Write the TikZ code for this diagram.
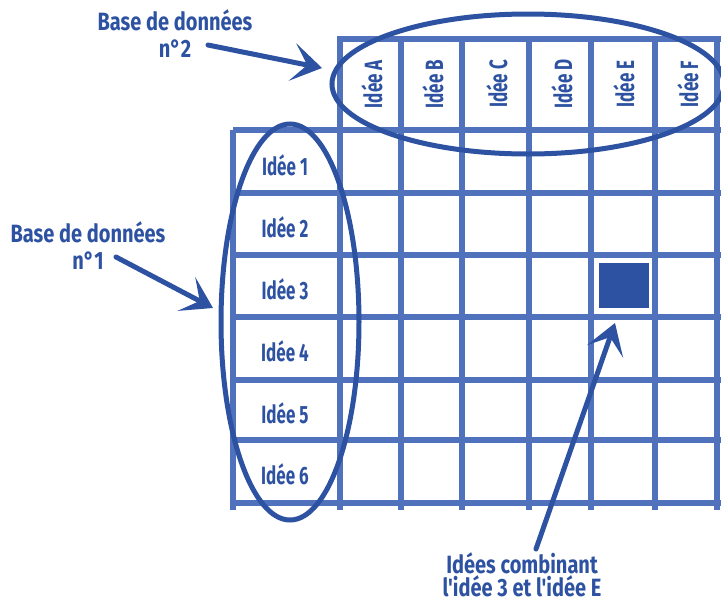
\documentclass[tikz,border=0pt]{standalone}
\usepackage{fontspec}
\setmainfont{Fira Sans}[FakeStretch=0.68]
\newfontfamily\labfont{Fira Sans}[FakeStretch=0.80]
\usetikzlibrary{arrows.meta,shapes.geometric}
\definecolor{gridblue}{RGB}{80,114,188}
\definecolor{inkblue}{RGB}{46,82,162}
\begin{document}
\begin{tikzpicture}[x=1pt,y=-1pt,
  gridline/.style={gridblue,line width=6.5pt},
  lab/.style={inkblue,font=\labfont\bfseries\fontsize{25}{27}\selectfont,inner sep=0pt,align=center},
  cell/.style={inkblue,font=\bfseries\fontsize{25}{27}\selectfont,inner sep=0pt},
  hcell/.style={cell,rotate=90},
  loop/.style={draw=inkblue,line width=5pt,ellipse,inner sep=0pt},
  arr/.style={inkblue,line width=5pt,line cap=round,-{Stealth[length=30pt,width=38pt,inset=15pt]}}]
\useasboundingbox (0,0) rectangle (721,603);
\fill[white] (0,0) rectangle (721,603);
% grid
\draw[gridline] (340,39) -- (721,39);
\foreach \y in {130,193,255,317,380,440,503}
  \draw[gridline] (233,\y) -- (721,\y);
\draw[gridline] (233,130) -- (233,510);
\foreach \x in {340,401,462,529,591,655,717}
  \draw[gridline] (\x,36) -- (\x,510);
% marked cell
\node[fill=inkblue,minimum width=50pt,minimum height=45pt,inner sep=0pt] (mark) at (624,285.5) {};
% row labels
\node[cell] (r1) at (285,165) {Idée 1};
\node[cell] (r2) at (285,227) {Idée 2};
\node[cell] (r3) at (285,289) {Idée 3};
\node[cell] (r4) at (285,351) {Idée 4};
\node[cell] (r5) at (285,413) {Idée 5};
\node[cell] (r6) at (285,474) {Idée 6};
% column labels
\node[hcell] (cA) at (372,84) {Idée A};
\node[hcell] (cB) at (433,84) {Idée B};
\node[hcell] (cC) at (497,84) {Idée C};
\node[hcell] (cD) at (562,84) {Idée D};
\node[hcell] (cE) at (624,84) {Idée E};
\node[hcell] (cF) at (688,84) {Idée F};
% ellipses
\node[loop,minimum width=138pt,minimum height=396pt] (ell1) at (290,322) {};
\node[loop,minimum width=392pt,minimum height=140pt] (ell2) at (528,84) {};
% labels
\node[lab] (db2) at (175,34) {Base de données\\n°2};
\node[lab] (db1) at (88,246) {Base de données\\n°1};
\node[lab,font=\labfont\bfseries\fontsize{25}{23}\selectfont] (comb) at (522,575) {Idées combinant\\l'idée 3 et l'idée E};
% arrows
\coordinate (t2) at (208,45);
\coordinate (h2) at (322,68);
\coordinate (t1) at (116,257);
\coordinate (h1) at (213,308);
\coordinate (t3) at (536,549);
\coordinate (h3) at (615,323);
\draw[arr] (t2) -- (h2);
\draw[arr] (t1) -- (h1);
\draw[arr] (t3) -- (h3);
\end{tikzpicture}
\end{document}
